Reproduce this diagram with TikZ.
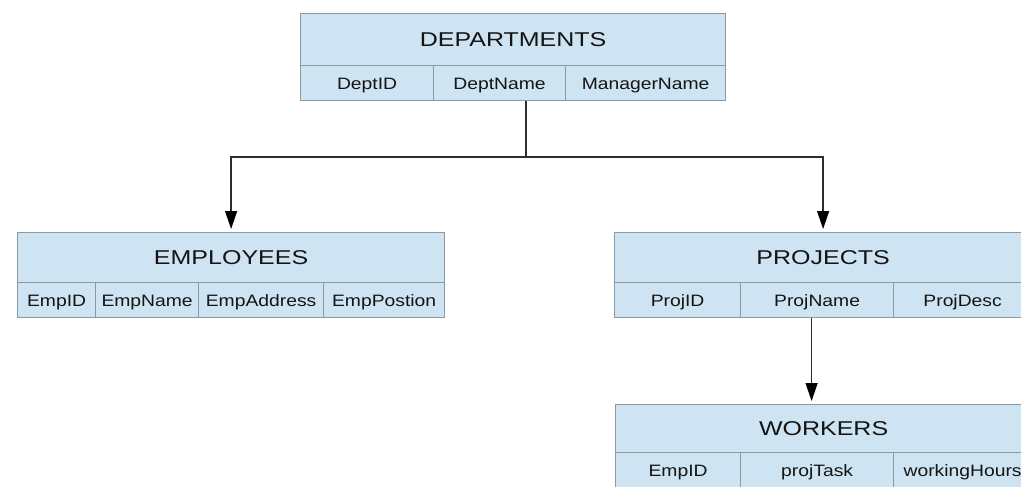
\documentclass[tikz,border=0pt]{standalone}
\usepackage{fontspec}
\setmainfont{Liberation Sans}
\newfontfamily\titlefont[FakeStretch=1.25]{Liberation Sans}
\newfontfamily\fieldfont[FakeStretch=1.17]{Liberation Sans}
\usetikzlibrary{arrows.meta}

\definecolor{cellfill}{RGB}{206,228,242}
\definecolor{cellline}{RGB}{140,152,162}
\definecolor{wire}{RGB}{45,45,45}
\definecolor{ink}{RGB}{20,20,20}

\tikzset{
  cell/.style={draw=cellline, fill=cellfill, line width=1.2pt, anchor=north west,
               inner sep=0pt, text=ink, text depth=0pt},
  title/.style={cell, minimum height=#1, text height=14.3pt,
                font=\titlefont\fontsize{20}{24}\selectfont},
  title/.default=52pt,
  field/.style={cell, minimum height=35pt, text height=11.8pt,
                font=\fieldfont\fontsize{16.5}{20}\selectfont},
  wireline/.style={draw=wire, line width=1.3pt},
  link/.style={wireline, -{Triangle[length=18pt,width=12pt,fill=black,color=black]},
               shorten >=3pt},
}

\begin{document}
\begin{tikzpicture}[x=1pt, y=-1pt]
  \useasboundingbox (0,0) rectangle (1021,487);
  \fill[white] (0,0) rectangle (1021,487);
  \clip (0,0) rectangle (1021,487);

  % DEPARTMENTS table
  \node[title, minimum width=425pt] (dept) at (300,13) {DEPARTMENTS};
  \node[field, minimum width=133pt] (dept-id)   at (300,65) {DeptID};
  \node[field, minimum width=132pt] (dept-name) at (433,65) {DeptName};
  \node[field, minimum width=160pt] (dept-mgr)  at (565,65) {ManagerName};

  % EMPLOYEES table
  \node[title, minimum width=427pt, minimum height=50pt] (emp) at (17,232) {EMPLOYEES};
  \node[field, minimum width=78pt]  (emp-id)   at (17,282)  {EmpID};
  \node[field, minimum width=103pt] (emp-name) at (95,282)  {EmpName};
  \node[field, minimum width=125pt] (emp-addr) at (198,282) {EmpAddress};
  \node[field, minimum width=121pt] (emp-pos)  at (323,282) {EmpPostion};

  % PROJECTS table
  \node[title, minimum width=417pt, minimum height=50pt] (proj) at (614,232) {PROJECTS};
  \node[field, minimum width=126pt] (proj-id)   at (614,282) {ProjID};
  \node[field, minimum width=153pt] (proj-name) at (740,282) {ProjName};
  \node[field, minimum width=138pt] (proj-desc) at (893,282) {ProjDesc};

  % WORKERS table
  \node[title, minimum width=416pt, minimum height=48pt] (work) at (615,404) {WORKERS};
  \node[field, minimum width=125pt] (work-emp)   at (615,452) {EmpID};
  \node[field, minimum width=153pt] (work-task)  at (740,452) {projTask};
  \node[field, minimum width=138pt] (work-hours) at (893,452) {workingHours};

  % connectors
  \coordinate (split) at (526,157);
  \draw[wireline] (dept-name.south -| split) -- (split);
  \draw[link] (split) -| (emp.north);
  \draw[link] (split) -| (proj.north);
  \draw[link] ([xshift=-5.5pt]proj-name.south) -- ([xshift=-5.5pt]proj-name.south |- work.north);
\end{tikzpicture}
\end{document}
